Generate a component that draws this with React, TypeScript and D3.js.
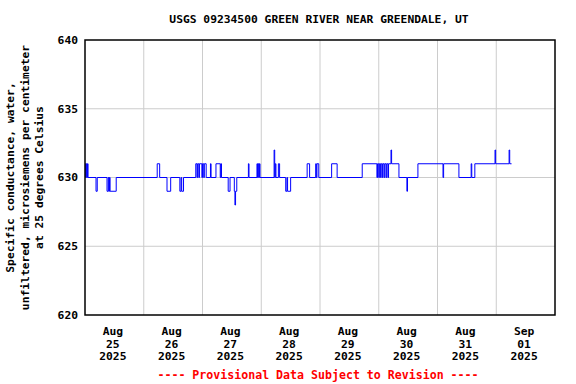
import React from "react";
import * as d3 from "d3";

const title = "USGS 09234500 GREEN RIVER NEAR GREENDALE, UT";
const yLabelLines = [
  "Specific conductance, water,",
  "unfiltered, microsiemens per centimeter",
  "at 25 degrees Celsius",
];
const footnote = "---- Provisional Data Subject to Revision ----";
const yTicks = [620, 625, 630, 635, 640];
const dayTicks = ["2025-08-25", "2025-08-26", "2025-08-27", "2025-08-28", "2025-08-29", "2025-08-30", "2025-08-31", "2025-09-01"];

// Step readings: [time (2025, local), value in µS/cm]; each value holds until the next reading
const readings: [string, number][] = [
  ["08-25 00:00", 631], ["08-25 00:15", 630], ["08-25 00:30", 631], ["08-25 00:45", 630], ["08-25 01:00", 631], ["08-25 01:15", 630],
  ["08-25 04:30", 629], ["08-25 05:00", 630],
  ["08-25 09:00", 629], ["08-25 09:30", 630], ["08-25 09:45", 629], ["08-25 10:00", 630], ["08-25 10:15", 629], ["08-25 12:45", 630],
  ["08-26 05:30", 631], ["08-26 06:30", 630],
  ["08-26 09:30", 629], ["08-26 11:00", 630],
  ["08-26 14:45", 629], ["08-26 15:15", 630], ["08-26 15:30", 629], ["08-26 16:15", 630],
  ["08-26 21:15", 631], ["08-26 21:45", 630], ["08-26 22:00", 631], ["08-26 22:30", 630], ["08-26 22:45", 631], ["08-26 23:45", 630],
  ["08-27 00:00", 631], ["08-27 00:30", 630], ["08-27 00:45", 631], ["08-27 01:30", 630],
  ["08-27 03:15", 631], ["08-27 03:30", 630],
  ["08-27 05:30", 631], ["08-27 07:15", 630], ["08-27 07:30", 631], ["08-27 07:45", 630],
  ["08-27 10:30", 629], ["08-27 11:15", 630],
  ["08-27 13:00", 629], ["08-27 13:15", 628], ["08-27 13:30", 629], ["08-27 14:00", 630],
  ["08-27 18:45", 631], ["08-27 19:00", 630],
  ["08-27 22:15", 631], ["08-27 22:30", 630], ["08-27 22:45", 631], ["08-27 23:00", 630], ["08-27 23:15", 631], ["08-27 23:30", 630],
  ["08-28 05:15", 632], ["08-28 05:30", 630], ["08-28 05:45", 631], ["08-28 06:00", 630], ["08-28 07:00", 631], ["08-28 07:30", 630],
  ["08-28 10:00", 629], ["08-28 10:30", 630], ["08-28 10:45", 629], ["08-28 12:00", 630],
  ["08-28 18:45", 631], ["08-28 19:45", 630],
  ["08-28 22:15", 631], ["08-28 22:30", 630], ["08-28 22:45", 631], ["08-28 23:30", 630],
  ["08-29 04:45", 631], ["08-29 07:00", 630],
  ["08-29 17:15", 631], ["08-29 23:15", 630], ["08-29 23:30", 631], ["08-30 00:00", 630], ["08-30 00:15", 631],
  ["08-30 00:45", 630], ["08-30 01:00", 631], ["08-30 01:30", 630], ["08-30 01:45", 631], ["08-30 02:15", 630],
  ["08-30 02:30", 631], ["08-30 03:00", 630], ["08-30 03:15", 631], ["08-30 03:45", 630], ["08-30 04:00", 631],
  ["08-30 05:00", 632], ["08-30 05:15", 631],
  ["08-30 08:15", 630], ["08-30 11:30", 629], ["08-30 11:45", 630],
  ["08-30 16:00", 631],
  ["08-31 02:15", 630], ["08-31 02:30", 631],
  ["08-31 08:45", 630], ["08-31 13:45", 631], ["08-31 14:00", 630], ["08-31 15:15", 631],
  ["08-31 23:30", 632], ["08-31 23:45", 631],
  ["09-01 05:15", 632], ["09-01 05:30", 631], ["09-01 06:15", 631],
];

const W = 576;
const H = 384;
const M = { left: 85, right: 555, top: 40, bottom: 315 };
const FONT = "'DejaVu Sans Mono', monospace";

const parse = (s: string) => {
  const [md, hm] = s.split(" ");
  const [mo, da] = md.split("-").map(Number);
  const [hh, mm] = hm.split(":").map(Number);
  return new Date(2025, mo - 1, da, hh, mm);
};
const parseDay = (s: string) => {
  const [y, m, d] = s.split("-").map(Number);
  return new Date(y, m - 1, d);
};

export default function App() {
  const days = dayTicks.map(parseDay);
  const start = days[0];
  const end = d3.timeDay.offset(days[days.length - 1], 1);
  const x = d3.scaleTime().domain([start, end]).range([M.left, M.right]);
  const y = d3.scaleLinear().domain([620, 640]).range([M.bottom, M.top]);
  const pts = readings.map(([t, v]) => [parse(t), v] as [Date, number]);
  const line = d3
    .line<[Date, number]>()
    .x((d) => x(d[0]))
    .y((d) => y(d[1]))
    .curve(d3.curveStepAfter);
  const boundaries = d3.timeDay.range(d3.timeDay.offset(start, 1), end);
  const fs = 11.3;
  const monthFmt = d3.timeFormat("%b");
  const dayFmt = d3.timeFormat("%d");
  const yearFmt = d3.timeFormat("%Y");
  const yMid = (M.top + M.bottom) / 2;

  return (
    <svg width={W} height={H} style={{ position: "absolute", left: 0, top: 0, background: "#fff" }}>
      <rect x={0} y={0} width={W} height={H} fill="#fff" />
      <text x={(M.left + M.right) / 2 - 1} y={23} textAnchor="middle" fontFamily={FONT} fontWeight="bold" fontSize={fs}>
        {title}
      </text>
      {yTicks.slice(1, -1).map((v) => (
        <line key={"gy" + v} x1={M.left} x2={M.right} y1={y(v)} y2={y(v)} stroke="#cccccc" strokeWidth={1} />
      ))}
      {boundaries.map((d, i) => (
        <line key={"gx" + i} x1={x(d)} x2={x(d)} y1={M.top} y2={M.bottom} stroke="#cccccc" strokeWidth={1} />
      ))}
      <path d={line(pts) || ""} fill="none" stroke="#0000ff" strokeWidth={1} />
      <rect x={M.left} y={M.top} width={M.right - M.left} height={M.bottom - M.top} fill="none" stroke="#000" strokeWidth={1.5} />
      {yTicks.map((v) => (
        <text key={"ty" + v} x={78} y={y(v)} dy="0.35em" textAnchor="end" fontFamily={FONT} fontWeight="bold" fontSize={fs}>
          {v}
        </text>
      ))}
      {days.map((d, i) => {
        const cx = x(d3.timeHour.offset(d, 12)) - 1.5;
        return (
          <text key={"tx" + i} x={cx} textAnchor="middle" fontFamily={FONT} fontWeight="bold" fontSize={fs}>
            <tspan x={cx} y={335}>{monthFmt(d)}</tspan>
            <tspan x={cx} y={347.5}>{dayFmt(d)}</tspan>
            <tspan x={cx} y={360}>{yearFmt(d)}</tspan>
          </text>
        );
      })}
      {yLabelLines.map((s, i) => (
        <text
          key={"yl" + i}
          transform={`translate(${14 + i * 14.5},${yMid}) rotate(-90)`}
          textAnchor="middle"
          fontFamily={FONT}
          fontWeight="bold"
          fontSize={fs}
        >
          {s}
        </text>
      ))}
      <text x={318} y={379} textAnchor="middle" fontFamily={FONT} fontWeight="bold" fontSize={11.6} fill="#ff0000">
        {footnote}
      </text>
    </svg>
  );
}
